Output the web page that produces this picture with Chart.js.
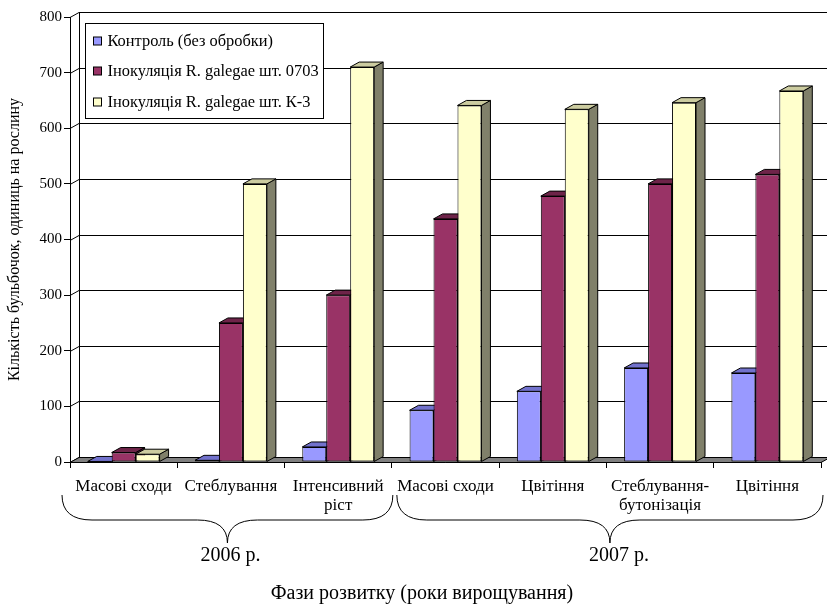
<!DOCTYPE html>
<html>
<head>
<meta charset="utf-8">
<script src="https://cdn.jsdelivr.net/npm/chart.js@4.4.1/dist/chart.umd.min.js"></script>
<style>
  html, body { margin: 0; padding: 0; background: #fff; }
  canvas { display: block; }
</style>
</head>
<body>
<canvas id="chart" width="827" height="604"></canvas>
<script>
// Development phases (x categories)
const categories = [
  'Масові сходи',
  'Стеблування',
  ['Інтенсивний', 'ріст'],
  'Масові сходи',
  'Цвітіння',
  ['Стеблування-', 'бутонізація'],
  'Цвітіння'
];

// Series names
const seriesNames = [
  'Контроль (без обробки)',
  'Інокуляція R. galegae шт. 0703',
  'Інокуляція R. galegae шт. К-3'
];

// Nodules per plant
const controlValues = [1, 3, 27, 93, 127, 169, 160];
const strain0703Values = [17, 250, 300, 437, 478, 500, 517];
const strainK3Values = [14, 500, 710, 641, 634, 646, 667];

// Value axis
const yMin = 0;
const yMax = 800;
const yStep = 100;

// Year groups: label and first/last category index
const yearLabels = ['2006 р.', '2007 р.'];
const yearFirst = [0, 3];
const yearLast = [2, 6];

const axisTitleX = 'Фази розвитку (роки вирощування)';
const axisTitleY = 'Кількість бульбочок, одиниць на рослину';

const FONT = 'Liberation Serif';
const DX = 9, DY = -5;   // depth offset of the 3-D boxes, wall and floor

const palette = [
  { front: '#9999FF', top: '#7272CC', side: '#5C5C99' },
  { front: '#993366', top: '#6E2449', side: '#5C1F3D' },
  { front: '#FFFFCC', top: '#CCCCA0', side: '#80806A' }
];

const seriesValues = [controlValues, strain0703Values, strainK3Values];

const depthPlugin = {
  id: 'depth3d',
  beforeDatasetsDraw(chart) {
    const ctx = chart.ctx;
    const a = chart.chartArea;
    const ys = chart.scales.y;
    ctx.save();
    ctx.strokeStyle = '#000';
    ctx.lineWidth = 1;

    // back wall gridlines with their links to the front axis
    ys.ticks.forEach(t => {
      const py = Math.round(ys.getPixelForValue(t.value)) + 0.5;
      ctx.beginPath();
      ctx.moveTo(a.left, py);
      ctx.lineTo(a.left + DX, py + DY);
      ctx.lineTo(chart.width, py + DY);
      ctx.stroke();
    });
    // left edge of the back wall
    ctx.beginPath();
    ctx.moveTo(a.left + DX + 0.5, Math.round(a.top) + DY);
    ctx.lineTo(a.left + DX + 0.5, Math.round(a.bottom) + DY);
    ctx.stroke();

    // floor
    const fb = Math.round(a.bottom) + 0.5;
    ctx.beginPath();
    ctx.moveTo(a.left, fb);
    ctx.lineTo(a.right, fb);
    ctx.lineTo(a.right + DX, fb + DY);
    ctx.lineTo(a.left + DX, fb + DY);
    ctx.closePath();
    ctx.fillStyle = '#808080';
    ctx.fill();
    ctx.stroke();

    // boxes, left to right inside each group
    const metas = chart.data.datasets.map((d, i) => chart.getDatasetMeta(i));
    const n = chart.data.labels.length;
    for (let j = 0; j < n; j++) {
      metas.forEach((m, i) => {
        const bar = m.data[j];
        const p = bar.getProps(['x', 'y', 'base', 'width'], true);
        const l = p.x - p.width / 2;
        const r = p.x + p.width / 2;
        const top = Math.min(p.y, p.base);
        const bottom = Math.max(p.y, p.base);
        const c = palette[i];
        ctx.lineWidth = 1;
        ctx.strokeStyle = '#000';
        // side face
        ctx.beginPath();
        ctx.moveTo(r, top);
        ctx.lineTo(r + DX, top + DY);
        ctx.lineTo(r + DX, bottom + DY);
        ctx.lineTo(r, bottom);
        ctx.closePath();
        ctx.fillStyle = c.side;
        ctx.fill();
        ctx.stroke();
        // top face
        ctx.beginPath();
        ctx.moveTo(l, top);
        ctx.lineTo(l + DX, top + DY);
        ctx.lineTo(r + DX, top + DY);
        ctx.lineTo(r, top);
        ctx.closePath();
        ctx.fillStyle = c.top;
        ctx.fill();
        ctx.stroke();
        // front face by the bar element itself
        bar.draw(ctx, a);
      });
    }
    ctx.restore();
    return false;
  },
  afterDraw(chart) {
    const ctx = chart.ctx;
    const a = chart.chartArea;
    const n = chart.data.labels.length;
    const cw = (a.right - a.left) / n;
    ctx.save();

    // legend
    const lx = Math.round(a.left) + 15.5, ly = Math.round(a.top) + 6.5, lw = 238, lh = 95;
    ctx.fillStyle = '#fff';
    ctx.fillRect(lx, ly, lw, lh);
    ctx.strokeStyle = '#000';
    ctx.lineWidth = 1;
    ctx.strokeRect(lx, ly, lw, lh);
    ctx.font = `16.4px "${FONT}"`;
    ctx.textBaseline = 'middle';
    ctx.textAlign = 'left';
    chart.data.datasets.forEach((d, i) => {
      const cy = Math.round(ly + 17 + i * 30.5);
      ctx.fillStyle = d.backgroundColor;
      ctx.fillRect(lx + 8, cy - 4, 8, 8);
      ctx.strokeRect(lx + 8, cy - 4, 8, 8);
      ctx.fillStyle = '#000';
      ctx.fillText(d.label, lx + 22, cy + 1);
    });

    // year braces with their labels
    const yTop = 495, yMid = 520, yTip = 543, R = 30;
    ctx.strokeStyle = '#000';
    ctx.lineWidth = 1;
    yearLabels.forEach((lab, k) => {
      const x0 = a.left + yearFirst[k] * cw + (k === 0 ? -8 : 5);
      const x1 = a.left + (yearLast[k] + 1) * cw + (k === 0 ? 1 : 2);
      const xc = (x0 + x1) / 2;
      ctx.beginPath();
      ctx.moveTo(x0, yTop);
      ctx.quadraticCurveTo(x0, yMid, x0 + R, yMid);
      ctx.lineTo(xc - R, yMid);
      ctx.quadraticCurveTo(xc, yMid, xc, yTip);
      ctx.moveTo(x1, yTop);
      ctx.quadraticCurveTo(x1, yMid, x1 - R, yMid);
      ctx.lineTo(xc + R, yMid);
      ctx.quadraticCurveTo(xc, yMid, xc, yTip);
      ctx.stroke();
      ctx.fillStyle = '#000';
      ctx.font = `20px "${FONT}"`;
      ctx.textAlign = 'center';
      ctx.textBaseline = 'middle';
      ctx.fillText(lab, xc + (k === 0 ? 3 : 9), 556);
    });

    // category axis title
    ctx.font = `20px "${FONT}"`;
    ctx.textAlign = 'center';
    ctx.textBaseline = 'middle';
    ctx.fillText(axisTitleX, 422, 594);
    ctx.restore();
  }
};

new Chart(document.getElementById('chart'), {
  type: 'bar',
  data: {
    labels: categories,
    datasets: seriesNames.map((name, i) => ({
      label: name,
      data: seriesValues[i],
      backgroundColor: palette[i].front,
      borderColor: '#000',
      borderWidth: 1,
      borderSkipped: false,
      categoryPercentage: 0.67,
      barPercentage: 1
    }))
  },
  options: {
    responsive: false,
    animation: false,
    events: [],
    layout: { padding: { left: 0, right: 6, top: 17, bottom: 0 } },
    plugins: {
      legend: { display: false },
      tooltip: { enabled: false }
    },
    scales: {
      x: {
        afterFit(scale) { scale.height = 142; },
        grid: {
          offset: true,
          drawOnChartArea: false,
          drawTicks: true,
          tickLength: 6,
          color: '#000'
        },
        border: { display: true, color: '#000' },
        ticks: {
          color: '#000',
          font: { family: FONT, size: 17, lineHeight: 1.1 },
          padding: 9,
          maxRotation: 0,
          autoSkip: false
        }
      },
      y: {
        min: yMin,
        max: yMax,
        afterFit(scale) { scale.width = 70; },
        grid: {
          drawOnChartArea: false,
          drawTicks: true,
          tickLength: 6,
          color: '#000'
        },
        border: { display: true, color: '#000' },
        ticks: {
          stepSize: yStep,
          color: '#000',
          font: { family: FONT, size: 15 },
          padding: 2
        },
        title: {
          display: true,
          text: axisTitleY,
          color: '#000',
          font: { family: FONT, size: 16 },
          padding: { top: 5, bottom: 0 }
        }
      }
    }
  },
  plugins: [depthPlugin]
});
</script>
</body>
</html>
